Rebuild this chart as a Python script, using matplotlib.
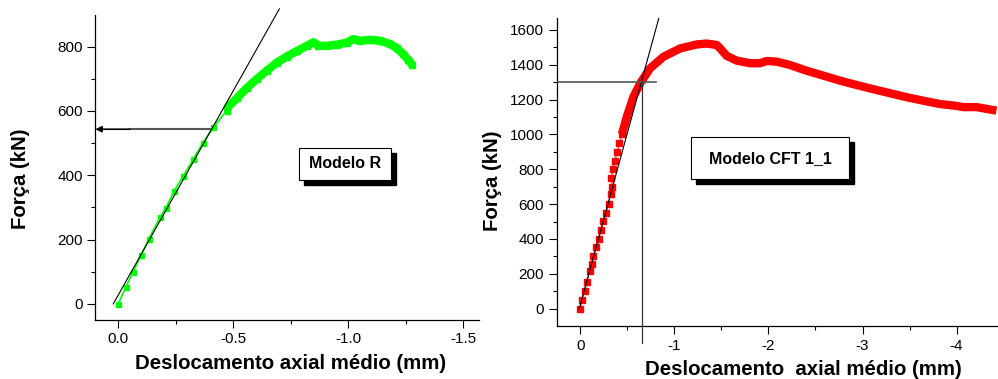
import matplotlib
matplotlib.use('Agg')
import matplotlib.pyplot as plt
from matplotlib.patches import Rectangle

plt.rcParams['font.family'] = ['Liberation Sans', 'DejaVu Sans']
plt.rcParams['axes.unicode_minus'] = False

# Modelo R - linear part (sparse markers) and dense part
r_lin_x = [0.0, -0.032, -0.065, -0.099, -0.132, -0.181, -0.207, -0.243, -0.283, -0.326, -0.367, -0.413, -0.471]
r_lin_y = [0, 52, 100, 152, 201, 269, 299, 351, 399, 450, 500, 549, 601]
r_den_x = [-0.471, -0.515, -0.558, -0.602, -0.645, -0.689, -0.732, -0.776, -0.819, -0.848, -0.870,
           -0.906, -0.950, -0.993, -1.022, -1.051, -1.094, -1.138, -1.181, -1.210, -1.239, -1.261, -1.278]
r_den_y = [608, 639, 671, 699, 725, 750, 769, 786, 802, 813, 803,
           802, 806, 812, 823, 818, 821, 818, 808, 795, 776, 758, 743]
r_tan_x = [0.022, -0.70]
r_tan_y = [0, 917]
r_yield = 543
r_yield_x = -0.413

# Modelo CFT 1_1
c_lin_x = [0.0, -0.021, -0.046, -0.071, -0.099, -0.124, -0.141, -0.170, -0.198, -0.219, -0.244,
           -0.273, -0.301, -0.322, -0.343, -0.329, -0.347, -0.368, -0.393, -0.417, -0.443]
c_lin_y = [0, 52, 101, 153, 214, 256, 304, 351, 400, 449, 501,
           549, 600, 658, 698, 749, 801, 849, 898, 950, 1002]
c_den_x = [-0.443, -0.50, -0.566, -0.648, -0.743, -0.884, -1.062, -1.239, -1.345, -1.451, -1.486,
           -1.557, -1.663, -1.805, -1.911, -1.982, -2.088, -2.229, -2.406, -2.583, -2.760, -2.937,
           -3.114, -3.291, -3.468, -3.645, -3.822, -3.999, -4.069, -4.211, -4.317, -4.423]
c_den_y = [1002, 1110, 1217, 1303, 1380, 1446, 1494, 1517, 1522, 1514, 1495,
           1451, 1424, 1409, 1409, 1422, 1418, 1399, 1366, 1338, 1309, 1284,
           1260, 1237, 1214, 1194, 1175, 1164, 1157, 1157, 1147, 1137]
c_tan_x = [0.01, -0.835]
c_tan_y = [0, 1667]
c_yield = 1304
c_yield_x = -0.655

GREEN = '#00ff00'
RED = '#ff0000'

fig = plt.figure(figsize=(9.98, 3.79), dpi=100)
ax1 = fig.add_axes([0.0955, 0.1557, 0.3845, 0.8047])
ax2 = fig.add_axes([0.5578, 0.1398, 0.4422, 0.8119])


def style_axis(ax):
    for s in ['top', 'right']:
        ax.spines[s].set_visible(False)
    for s in ['left', 'bottom']:
        ax.spines[s].set_linewidth(0.9)
    ax.tick_params(which='major', direction='out', length=6, width=0.8, labelsize=11, pad=3)
    ax.tick_params(which='minor', direction='out', length=3, width=0.8)


# ---- left: Modelo R
ax1.plot(r_lin_x, r_lin_y, color=GREEN, lw=1.2, marker='s', ms=3.6, zorder=3)
ax1.plot(r_den_x, r_den_y, color=GREEN, lw=6, solid_capstyle='butt', solid_joinstyle='round', zorder=3)
ax1.plot(r_den_x, r_den_y, ls='none', color=GREEN, marker='s', ms=4.5, zorder=3)
ax1.plot(r_tan_x, r_tan_y, color='black', lw=0.8, clip_on=False, zorder=4)
ax1.plot([r_yield_x, -0.05], [r_yield, r_yield], color='#555555', lw=1.5, zorder=2)
ax1.annotate('', xy=(0.1, r_yield), xytext=(-0.05, r_yield),
             arrowprops=dict(arrowstyle='-|>', color='black', lw=1.2, mutation_scale=9,
                             shrinkA=0, shrinkB=0), annotation_clip=False)
ax1.set_xlim(0.1, -1.568)
ax1.set_ylim(-50, 898)
ax1.set_xticks([0.0, -0.5, -1.0, -1.5])
ax1.set_xticklabels(['0.0', '-0.5', '-1.0', '-1.5'])
ax1.set_xticks([-0.25, -0.75, -1.25], minor=True)
ax1.set_yticks([0, 200, 400, 600, 800])
ax1.set_yticks([100, 300, 500, 700], minor=True)
style_axis(ax1)

# ---- right: Modelo CFT 1_1
ax2.plot(c_lin_x, c_lin_y, color=RED, lw=1, alpha=0.7, zorder=3)
ax2.plot(c_lin_x, c_lin_y, ls='none', color=RED, marker='s', ms=4, zorder=3)
ax2.plot(c_den_x, c_den_y, color=RED, lw=6, solid_capstyle='butt', solid_joinstyle='round', zorder=3)
ax2.plot(c_tan_x, c_tan_y, color='black', lw=0.8, zorder=4)
ax2.plot([0.25, -0.81], [c_yield, c_yield], color='#555555', lw=1.2, zorder=4)
ax2.plot([c_yield_x, c_yield_x], [c_yield, -197], color='#333333', lw=0.9, clip_on=False, zorder=4)
ax2.set_xlim(0.25, -4.44)
ax2.set_ylim(-100, 1667)
ax2.set_xticks([0, -1, -2, -3, -4])
ax2.set_xticklabels(['0', '-1', '-2', '-3', '-4'])
ax2.set_xticks([-0.5, -1.5, -2.5, -3.5], minor=True)
ax2.set_yticks(range(0, 1601, 200))
ax2.set_yticks(range(100, 1601, 200), minor=True)
style_axis(ax2)

# axis labels
fig.text(0.021, 0.528, 'Força (kN)', rotation=90, fontsize=14.7, fontweight='bold',
         ha='center', va='center')
fig.text(0.493, 0.524, 'Força (kN)', rotation=90, fontsize=14.7, fontweight='bold',
         ha='center', va='center')
fig.text(0.2916, 0.042, 'Deslocamento axial médio (mm)', fontsize=14.7, fontweight='bold',
         ha='center', va='center')
fig.text(0.8046, 0.026, 'Deslocamento  axial médio (mm)', fontsize=14.7, fontweight='bold',
         ha='center', va='center')


# label boxes with shadow (pixel coords of the figure)
def label_box(x0, y0, x1, y1, text):
    W, H = 998.0, 379.0
    sh = Rectangle(((x0 + 5) / W, 1 - (y1 + 5) / H), (x1 - x0) / W, (y1 - y0) / H,
                   transform=fig.transFigure, facecolor='black', edgecolor='black', zorder=5)
    bx = Rectangle((x0 / W, 1 - y1 / H), (x1 - x0) / W, (y1 - y0) / H,
                   transform=fig.transFigure, facecolor='white', edgecolor='black', lw=0.8, zorder=6)
    fig.patches.extend([sh, bx])
    fig.text((x0 + x1) / 2 / W, 1 - (y0 + y1) / 2 / H, text, fontsize=11.5, fontweight='bold',
             ha='center', va='center', zorder=7)


label_box(299.3, 147.7, 390.7, 180.3, 'Modelo R')
label_box(691.3, 137.3, 849.0, 179.0, 'Modelo CFT 1_1')

fig.savefig('out.png', dpi=100)
